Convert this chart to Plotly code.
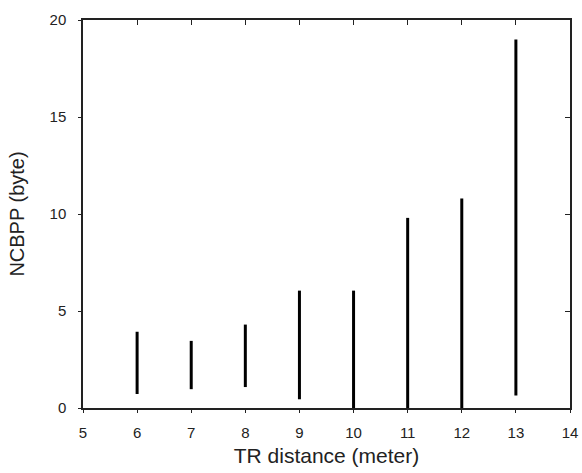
import plotly.graph_objects as go

distance = [6, 7, 8, 9, 10, 11, 12, 13]
ncbpp_low = [0.72, 0.97, 1.08, 0.45, 0.0, 0.0, 0.0, 0.65]
ncbpp_high = [3.93, 3.46, 4.30, 6.05, 6.05, 9.8, 10.8, 19.0]

x_ticks = [5, 6, 7, 8, 9, 10, 11, 12, 13, 14]
y_ticks = [0, 5, 10, 15, 20]

xs, ys = [], []
for d, lo, hi in zip(distance, ncbpp_low, ncbpp_high):
    xs += [d, d, None]
    ys += [lo, hi, None]

fig = go.Figure()
fig.add_trace(go.Scatter(x=xs, y=ys, mode="lines",
                         line=dict(color="black", width=3),
                         showlegend=False, hoverinfo="skip"))
# dummy trace for the mirrored (top/right) axes
fig.add_trace(go.Scatter(x=[None], y=[None], xaxis="x2", yaxis="y2",
                         showlegend=False, hoverinfo="skip"))

font = dict(family="Liberation Sans, Arial, sans-serif", size=15, color="#222")

fig.update_layout(
    width=582, height=473,
    margin=dict(l=83, r=12, t=20, b=65),
    paper_bgcolor="white", plot_bgcolor="white",
    font=font,
    showlegend=False,
    xaxis=dict(range=[5, 14], tickvals=x_ticks, ticktext=[str(v) for v in x_ticks],
               showgrid=False, zeroline=False, showline=True, linecolor="#222",
               linewidth=1.5, ticks="outside", ticklen=3, tickcolor="#222",
               ticklabelstandoff=7, automargin=False, ticklabeloverflow="allow",
               title=dict(text="TR distance (meter)", font=dict(size=21), standoff=9)),
    yaxis=dict(range=[0, 20], tickvals=y_ticks, ticktext=[str(v) for v in y_ticks],
               showgrid=False, zeroline=False, showline=True, linecolor="#222",
               linewidth=1.5, ticks="outside", ticklen=3, tickcolor="#222",
               ticklabelstandoff=9, automargin=False, ticklabeloverflow="allow",
               title=dict(text="NCBPP (byte)", font=dict(size=20), standoff=20)),
    xaxis2=dict(range=[5, 14], tickvals=x_ticks, overlaying="x", side="top",
                showticklabels=False, showgrid=False, zeroline=False,
                showline=True, linecolor="#222", linewidth=1.5, automargin=False,
                ticks="inside", ticklen=5, tickcolor="#222"),
    yaxis2=dict(range=[0, 20], tickvals=y_ticks, overlaying="y", side="right",
                showticklabels=False, showgrid=False, zeroline=False,
                showline=True, linecolor="#222", linewidth=1.5, automargin=False,
                ticks="inside", ticklen=5, tickcolor="#222"),
)

fig.write_html("out.html",
               config={"displayModeBar": False},
               post_script="document.body.style.margin='0';document.body.style.overflow='hidden';")
